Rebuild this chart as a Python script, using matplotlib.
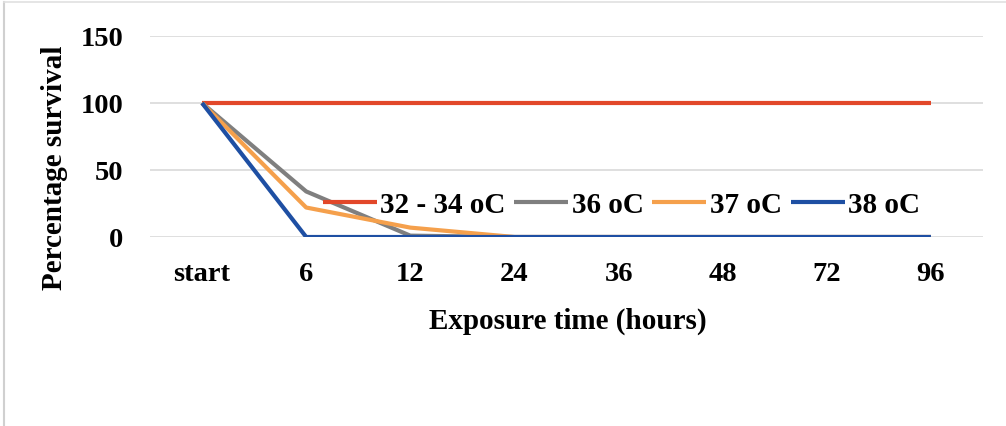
import matplotlib
matplotlib.use("Agg")
import matplotlib.pyplot as plt
from matplotlib.lines import Line2D

# Survival data per exposure time
categories = ["start", "6", "12", "24", "36", "48", "72", "96"]
series_names = ["32 - 34 oC", "36 oC", "37 oC", "38 oC"]
s_32_34 = [100, 100, 100, 100, 100, 100, 100, 100]
s_36 = [100, 34, 1, 0, 0, 0, 0, 0]
s_37 = [100, 22, 7, 0, 0, 0, 0, 0]
s_38 = [100, 0, 0, 0, 0, 0, 0, 0]
y_ticks = [0, 50, 100, 150]

colors = ["#E2482A", "#7F7F7F", "#F5A04C", "#1E4FA3"]

plt.rcParams["font.family"] = ["Liberation Serif", "DejaVu Serif"]
plt.rcParams["font.weight"] = "bold"

W, H = 1006, 427
fig = plt.figure(figsize=(W / 100, H / 100), dpi=100)
ax = fig.add_axes([150 / W, (H - 238) / H, (983 - 150) / W, (238 - 37) / H])

x = list(range(len(categories)))
for vals, name, c in zip([s_32_34, s_36, s_37, s_38], series_names, colors):
    ax.plot(x, vals, color=c, lw=3.0, label=name, solid_capstyle="butt", zorder=3)

ax.set_xlim(-0.5, len(categories) - 0.5)
ax.set_ylim(0, 150)
ax.set_yticks(y_ticks)
ax.set_xticks(x)
ax.set_xticklabels(categories)
ax.tick_params(axis="both", length=0, labelsize=20.5)
ax.tick_params(axis="y", pad=19)
ax.tick_params(axis="x", pad=17)
ax.grid(axis="y", color="#D9D9D9", lw=1.2, zorder=0)
for sp in ax.spines.values():
    sp.set_visible(False)

leg = ax.legend(loc="center", bbox_to_anchor=(0.566, 0.16), ncol=4, frameon=False,
                fontsize=21, handlelength=1.85, handletextpad=0.12, columnspacing=0.3,
                borderpad=0)
leg.set_zorder(5)

fig.text(568 / W, 1 - 321 / H, "Exposure time (hours)", ha="center", va="center",
         fontsize=21, fontweight="bold")
fig.text(55 / W, 1 - 168 / H, "Percentage survival", ha="center", va="center",
         rotation=90, fontsize=21, fontweight="bold")

# light outer border
fig.add_artist(Line2D([4 / W, 4 / W], [0, 1 - 3 / H], color="#D0D0D0", lw=1.5))
fig.add_artist(Line2D([4 / W, 1], [1 - 3 / H, 1 - 3 / H], color="#E0E0E0", lw=1.2))

fig.savefig("out.png", dpi=100, facecolor="white")
